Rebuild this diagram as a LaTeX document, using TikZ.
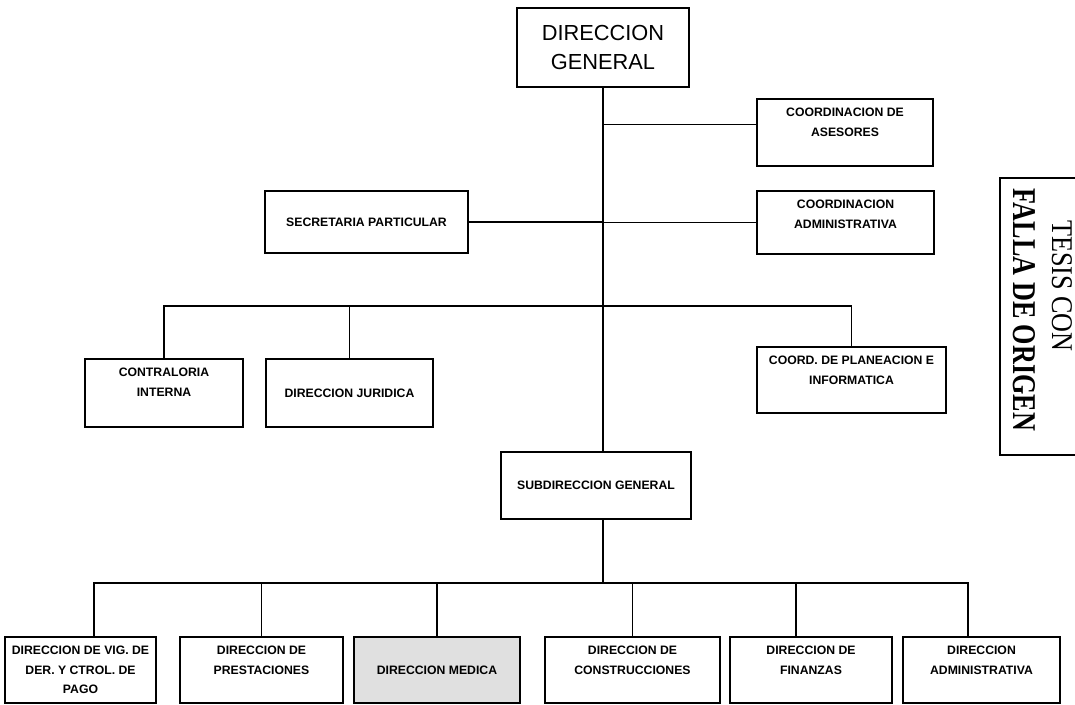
\documentclass[tikz,border=0pt]{standalone}
\usepackage{fontspec}
\setmainfont{Liberation Sans}
\newfontfamily\stampfont{Liberation Serif}
\usepackage{graphicx}

\newcommand{\toptext}[3]{\parbox[c][#2][t]{#1}{\centering\vspace*{0.22cm}#3}}

\tikzset{
  unit/.style={draw, line width=1.1pt, inner sep=0pt, font=\fontsize{8.7}{14}\selectfont\bfseries},
  link/.style={line width=1.1pt},
}

\begin{document}
\begin{tikzpicture}[x=0.025cm, y=-0.025cm]
    \useasboundingbox (0,0) rectangle (1075,704);

    % top of the chart
    \node[draw, line width=1.1pt, inner sep=0pt, minimum width=4.3cm, minimum height=1.975cm, align=center, font=\fontsize{15.5}{20}\selectfont] (dg) at (603,47.5) {DIRECCION\\GENERAL};
    \node[unit] (ase) at (845,132.5) {\toptext{4.4cm}{1.675cm}{COORDINACION DE\\ASESORES}};
    \node[unit] (adm) at (845.5,222.5) {\toptext{4.425cm}{1.575cm}{COORDINACION\\ADMINISTRATIVA}};
    \node[unit, minimum width=5.075cm, minimum height=1.55cm] (sec) at (366.5,222) {SECRETARIA PARTICULAR};

    % middle row
    \node[unit] (con) at (164,393) {\toptext{3.95cm}{1.7cm}{CONTRALORIA\\INTERNA}};
    \node[unit, minimum width=4.175cm, minimum height=1.7cm] (jur) at (349.5,393) {DIRECCION JURIDICA};
    \node[unit] (pla) at (851.5,380) {\toptext{4.725cm}{1.65cm}{COORD. DE PLANEACION E\\INFORMATICA}};
    \node[unit, minimum width=4.75cm, minimum height=1.675cm] (sub) at (596,485.5) {SUBDIRECCION GENERAL};

    % bottom row
    \node[unit] (vig) at (80.5,670) {\toptext{3.775cm}{1.65cm}{DIRECCION DE VIG. DE\\DER. Y CTROL. DE\\PAGO}};
    \node[unit] (pre) at (261.5,670) {\toptext{4.075cm}{1.65cm}{DIRECCION DE\\PRESTACIONES}};
    \node[unit, fill=black!12, minimum width=4.15cm, minimum height=1.65cm] (med) at (437,670) {DIRECCION MEDICA};
    \node[unit] (cons) at (632.5,670) {\toptext{4.375cm}{1.65cm}{DIRECCION DE\\CONSTRUCCIONES}};
    \node[unit] (fin) at (811,670) {\toptext{4.05cm}{1.65cm}{DIRECCION DE\\FINANZAS}};
    \node[unit] (dad) at (981.5,670) {\toptext{3.925cm}{1.65cm}{DIRECCION\\ADMINISTRATIVA}};

    \coordinate (midbus) at (603,306);
    \coordinate (lowbus) at (603,583);

    % lines
    \draw[link] (dg.south) -- (dg.south |- sub.north);
    \draw[link] ([yshift=0.2cm]ase.west) -- ([yshift=0.2cm]ase.west -| dg.south);
    \draw[link] (adm.west) -- (adm.west -| dg.south);
    \draw[link] (sec.east) -- (sec.east -| dg.south);
    \draw[link] (con.north) |- (midbus) -| (pla.north);
    \draw[link] (jur.north) -- (jur.north |- midbus);
    \draw[link] (dg.south |- sub.south) -- (lowbus);
    \draw[link] ([xshift=0.34cm]vig.north) |- (lowbus) -| ([xshift=-0.34cm]dad.north);
    \foreach \u in {pre,med,cons}
        \draw[link] (\u.north) -- (\u.north |- lowbus);
    \draw[link] ([xshift=-0.375cm]fin.north) -- ([xshift=-0.375cm]fin.north |- lowbus);

    % stamp
    \draw[line width=1.8pt] (1075,178) -- (1000,178) -- (1000,455) -- (1075,455);
    \node[rotate=-90, inner sep=0pt, font=\stampfont\bfseries\fontsize{18.6}{20}\selectfont] (falla) at (1024,310) {\scalebox{1}[1.27]{FALLA DE ORIGEN}};
    \node[rotate=-90, inner sep=0pt, font=\stampfont\fontsize{18.6}{20}\selectfont] (tesis) at (1062,286) {\scalebox{1}[1.15]{TESIS CON}};
\end{tikzpicture}
\end{document}
